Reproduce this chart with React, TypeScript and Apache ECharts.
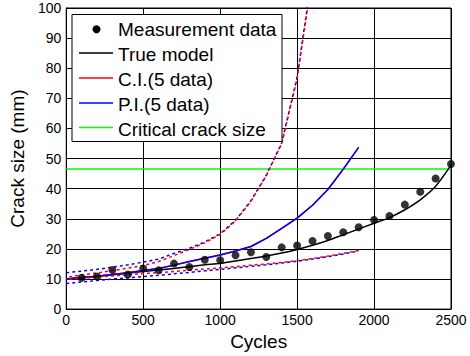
import React, { useEffect, useRef } from "react";
import * as echarts from "echarts";

const measCycles = [100, 200, 300, 400, 500, 600, 700, 800, 900, 1000, 1100, 1200, 1300, 1400, 1500, 1600, 1700, 1800, 1900, 2000, 2100, 2200, 2300, 2400, 2500];
const measValues = [10.4, 10.8, 13.0, 11.5, 13.5, 12.9, 15.1, 14.0, 16.4, 16.2, 17.9, 18.9, 17.3, 20.5, 21.1, 22.6, 24.3, 25.5, 27.2, 29.6, 30.9, 34.7, 39.0, 43.4, 48.2];

const trueCycles = [0, 100, 200, 300, 400, 500, 600, 700, 800, 900, 1000, 1100, 1200, 1300, 1400, 1500, 1600, 1700, 1800, 1900, 2000, 2100, 2200, 2300, 2400, 2500];
const trueValues = [10.0, 10.5, 10.9, 11.4, 11.9, 12.5, 13.0, 13.5, 14.1, 14.7, 15.2, 16.0, 16.8, 17.6, 18.6, 19.8, 21.2, 22.8, 24.7, 26.6, 28.5, 30.4, 33.0, 36.3, 40.8, 47.8];

const predCycles = [0, 100, 200, 300, 400, 500, 600, 700, 800, 900, 1000, 1100, 1200, 1300, 1400, 1500, 1600, 1700, 1800, 1900];
const medianValues = [10.0, 10.4, 10.9, 11.5, 12.1, 12.8, 13.5, 14.6, 15.8, 16.9, 18.0, 19.3, 20.8, 23.5, 26.8, 30.2, 34.5, 39.7, 46.5, 53.7];
const piUpper = [12.1, 12.6, 13.2, 13.9, 14.7, 15.6, 16.6, 18.5, 20.2, 22.3, 25.0, 29.5, 36.0, 44.5, 55.2, 77, 112, 160, 220, 300];
const ciUpper = [10.6, 11.3, 12.0, 12.8, 13.6, 14.5, 15.8, 17.8, 19.8, 22.0, 24.8, 29.3, 35.8, 44.3, 55.0, 76.5, 111, 159, 219, 299];
const ciLower = [9.8, 10.2, 10.6, 11.0, 11.4, 11.8, 12.1, 12.5, 12.9, 13.3, 13.7, 14.1, 14.6, 15.0, 15.5, 16.1, 16.8, 17.6, 18.5, 19.5];
const piLower = [8.5, 9.0, 9.5, 10.0, 10.4, 10.8, 11.2, 11.7, 12.2, 12.7, 13.2, 13.7, 14.2, 14.7, 15.3, 15.9, 16.6, 17.4, 18.3, 19.3];

const criticalCycles = [0, 2500];
const criticalValue = 46.5;

const legendLabels = ["Measurement data", "True model", "C.I.(5 data)", "P.I.(5 data)", "Critical crack size"];
const legendColors = ["#000000", "#000000", "#ff0000", "#0000ff", "#00ff00"];

const FONT = "'Liberation Sans', Arial, sans-serif";

const pairs = (xs: number[], ys: number[]) => xs.map((x, i) => [x, ys[i]]);

export default function App() {
  const ref = useRef<HTMLDivElement>(null);
  useEffect(() => {
    if (!ref.current) return;
    const chart = echarts.init(ref.current, undefined, { renderer: "svg" });

    const rowY = [29.3, 53, 78, 103, 127.5];
    const graphics: any[] = [
      {
        type: "rect",
        shape: { x: 72, y: 14.5, width: 210, height: 127 },
        style: { fill: "#ffffff", stroke: "#000000", lineWidth: 1 },
        z: 100,
      },
    ];
    legendLabels.forEach((label, i) => {
      if (i === 0) {
        graphics.push({
          type: "circle",
          shape: { cx: 96.5, cy: rowY[i], r: 4 },
          style: { fill: "#000000" },
          z: 101,
        });
      } else {
        graphics.push({
          type: "line",
          shape: { x1: 79, y1: rowY[i], x2: 113, y2: rowY[i] },
          style: { stroke: legendColors[i], lineWidth: 1.5 },
          z: 101,
        });
      }
      graphics.push({
        type: "text",
        x: 118,
        y: rowY[i] + (i === 0 ? 0 : 1.5),
        style: {
          text: label,
          fill: "#000000",
          font: `19px ${FONT}`,
          textVerticalAlign: "middle",
          verticalAlign: "middle",
        },
        z: 101,
      });
    });

    chart.setOption({
      animation: false,
      backgroundColor: "#ffffff",
      textStyle: { fontFamily: FONT },
      grid: {
        left: 66,
        right: 19,
        top: 8,
        bottom: 46,
        show: true,
        borderColor: "#000000",
        borderWidth: 1,
        containLabel: false,
      },
      xAxis: {
        type: "value",
        min: 0,
        max: 2500,
        interval: 500,
        name: "Cycles",
        nameLocation: "middle",
        nameGap: 21,
        nameTextStyle: { fontSize: 19, color: "#000", fontFamily: FONT },
        axisLine: { show: true, lineStyle: { color: "#000", width: 1 } },
        axisTick: { show: false },
        axisLabel: { fontSize: 14, color: "#000", margin: 4, fontFamily: FONT, formatter: (v: number) => String(v) },
        splitLine: { show: true, lineStyle: { color: "#000", width: 1 } },
      },
      yAxis: {
        type: "value",
        min: 0,
        max: 100,
        interval: 10,
        name: "Crack size (mm)",
        nameLocation: "middle",
        nameGap: 31,
        nameTextStyle: { fontSize: 19, color: "#000", fontFamily: FONT },
        axisLine: { show: true, lineStyle: { color: "#000", width: 1 } },
        axisTick: { show: false },
        axisLabel: { fontSize: 14, color: "#000", margin: 5, fontFamily: FONT, formatter: (v: number) => String(v) },
        splitLine: { show: true, lineStyle: { color: "#000", width: 1 } },
      },
      series: [
        {
          type: "line",
          name: "Critical crack size",
          data: criticalCycles.map((x) => [x, criticalValue]),
          symbol: "none",
          lineStyle: { color: "#00ff00", width: 1.5 },
          z: 2,
        },
        {
          type: "line",
          name: "True model",
          data: pairs(trueCycles, trueValues),
          symbol: "none",
          smooth: 0.3,
          lineStyle: { color: "#000000", width: 1.5 },
          z: 3,
        },
        {
          type: "line",
          name: "C.I. median",
          data: pairs(predCycles, medianValues),
          symbol: "none",
          lineStyle: { color: "#ff0000", width: 1.5 },
          z: 4,
        },
        {
          type: "line",
          name: "P.I. median",
          data: pairs(predCycles, medianValues),
          symbol: "none",
          lineStyle: { color: "#0000ff", width: 1.5 },
          z: 5,
        },
        {
          type: "line",
          name: "P.I. upper",
          data: pairs(predCycles, piUpper),
          symbol: "none",
          lineStyle: { color: "#0000ff", width: 1.5, type: [3, 3] },
          z: 4,
        },
        {
          type: "line",
          name: "C.I. upper",
          data: pairs(predCycles, ciUpper),
          symbol: "none",
          lineStyle: { color: "#ff0000", width: 1.5, type: [3, 3], dashOffset: 3 },
          z: 5,
        },
        {
          type: "line",
          name: "P.I. lower",
          data: pairs(predCycles, piLower),
          symbol: "none",
          lineStyle: { color: "#0000ff", width: 1.5, type: [3, 3] },
          z: 4,
        },
        {
          type: "line",
          name: "C.I. lower",
          data: pairs(predCycles, ciLower),
          symbol: "none",
          lineStyle: { color: "#ff0000", width: 1.5, type: [3, 3], dashOffset: 3 },
          z: 5,
        },
        {
          type: "scatter",
          name: "Measurement data",
          data: pairs(measCycles, measValues),
          symbol: "circle",
          symbolSize: 8,
          itemStyle: { color: "#000000" },
          z: 6,
        },
      ],
      graphic: graphics,
    });
    return () => chart.dispose();
  }, []);
  return (
    <div
      ref={ref}
      style={{ position: "fixed", left: 0, top: 0, width: 470, height: 356, background: "#fff" }}
    />
  );
}
